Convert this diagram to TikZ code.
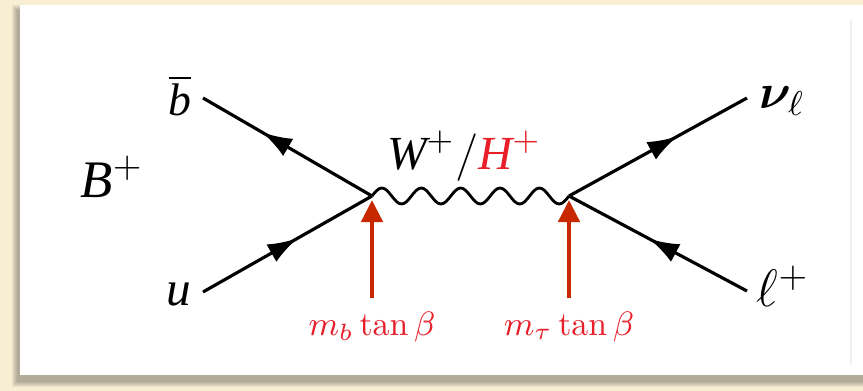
\documentclass[tikz,border=0pt]{standalone}
\usepackage{fix-cm}
\usepackage{amsmath,bm}
\usepackage{fontspec}
\newfontfamily\tms{Liberation Serif}
\newcommand{\ti}[1]{\text{\tms\itshape #1}}
\usetikzlibrary{arrows.meta, positioning, decorations.markings}
\definecolor{cbeige}{RGB}{247,238,212}
\definecolor{cred}{RGB}{232,30,40}
\definecolor{cdarkred}{RGB}{200,40,0}
\tikzset{
  every picture/.style={line width=0.9pt},
  fermion/.style={draw=black, line width=0.9pt, postaction={decorate},
    decoration={markings, mark=at position #1 with {\arrow{Latex[length=0.3cm, width=0.2cm]}}}},
  fermion/.default=0.55,
  boson/.style={draw=black, line width=0.8pt},
  coupling/.style={draw=cdarkred, line width=1.3pt, -{Triangle[length=0.22cm, width=0.21cm]}},
  lab/.style={font=\fontsize{#1}{17}\selectfont, inner sep=1pt},
  lab/.default=14,
  redlab/.style={font=\fontsize{9.6}{12}\selectfont, text=cred, inner sep=3.5pt},
}
\begin{document}
\begin{tikzpicture}[x=0.01cm, y=-0.01cm]
  \useasboundingbox (0,0) rectangle (863,391);
  % panel and its shadow
  \fill[cbeige] (0,0) rectangle (863,391);
  \foreach \d in {0,1,...,5}
    \fill[black, opacity=0.05] (17-\d,10-\d) rectangle (866,382+\d);
  \fill[white] (20,5) rectangle (863,375);
  \draw[black!6, line width=0.6pt] (851,20) -- (851,365);
  % vertices and external ends
  \coordinate (v1) at (372,196);
  \coordinate (v2) at (569,196);
  \coordinate (bb) at (203,98);
  \coordinate (uu) at (203,292);
  \coordinate (nu) at (747,98);
  \coordinate (ll) at (747,291);
  % lines
  \draw[fermion=0.65] (v1) -- (bb);
  \draw[fermion=0.56] (uu) -- (v1);
  \draw[fermion=0.61] (v2) -- (nu);
  \draw[fermion=0.55] (ll) -- (v2);
  \draw[boson] (v1) \foreach \k in {1,...,5} {sin ++(9.85,-8) cos ++(9.85,8) sin ++(9.85,8) cos ++(9.85,-8)};
  % labels
  \node[lab=13] (lbb) at (180,96) {$\overline{\ti{b}}$};
  \node[lab=15] (lB) at (112,177) {$\ti{B}^+$};
  \node[lab=14] (lu) at (179,294) {$\ti{u}$};
  \node[lab=14] (lnu) at (782,101) {$\bm{\nu}_\ell$};
  \node[lab=15] (lell) at (783,286) {$\ell^+$};
  \node[lab=13.5] (lW) at (464,156) {$\ti{W}^+/\textcolor{cred}{\ti{H}^+}$};
  % couplings
  \node[redlab] (mb) at (372,327) {$m_b\tan\beta$};
  \node[redlab] (mtau) at (569,327) {$m_\tau\tan\beta$};
  \draw[coupling, shorten >=0.04cm] (mb.north) -- (v1);
  \draw[coupling, shorten >=0.04cm] (mtau.north) -- (v2);
\end{tikzpicture}
\end{document}
